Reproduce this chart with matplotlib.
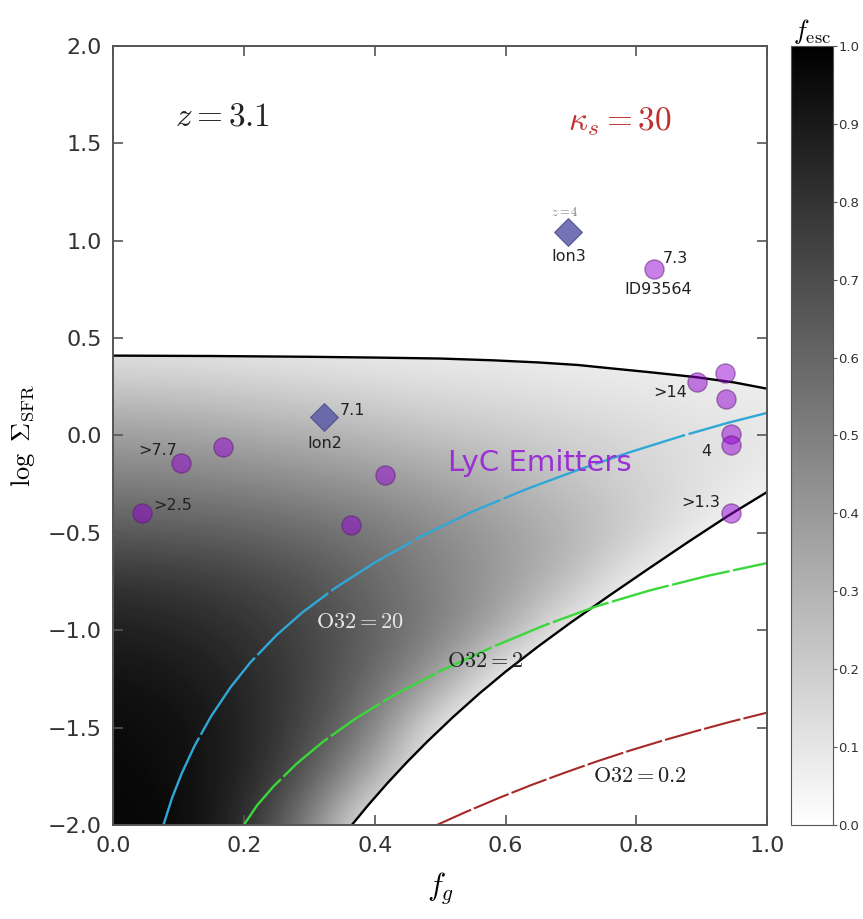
import numpy as np
import matplotlib.pyplot as plt
from matplotlib.patches import Polygon

plt.rcParams['mathtext.fontset'] = 'cm'
plt.rcParams['font.family'] = ['DejaVu Sans']

grid_x = [0.0, 0.1, 0.2, 0.3, 0.4, 0.5, 0.6, 0.7, 0.8, 0.9, 1.0]
grid_y = [-2.0, -1.75, -1.5, -1.25, -1.0, -0.75, -0.5, -0.25, 0.0, 0.25, 0.5]
fesc_grid = [
    [0.98, 0.97, 0.84, 0.48, 0.00, 0.00, 0.00, 0.00, 0.00, 0.00, 0.00],
    [0.97, 0.95, 0.87, 0.66, 0.30, 0.00, 0.00, 0.00, 0.00, 0.00, 0.00],
    [0.96, 0.94, 0.87, 0.72, 0.50, 0.05, 0.00, 0.00, 0.00, 0.00, 0.00],
    [0.93, 0.91, 0.85, 0.74, 0.58, 0.38, 0.00, 0.00, 0.00, 0.00, 0.00],
    [0.88, 0.86, 0.81, 0.73, 0.62, 0.50, 0.33, 0.04, 0.00, 0.00, 0.00],
    [0.80, 0.78, 0.74, 0.68, 0.59, 0.49, 0.39, 0.26, 0.05, 0.00, 0.00],
    [0.65, 0.64, 0.62, 0.58, 0.53, 0.46, 0.38, 0.30, 0.20, 0.07, 0.00],
    [0.51, 0.50, 0.48, 0.45, 0.41, 0.36, 0.30, 0.24, 0.18, 0.13, 0.07],
    [0.38, 0.37, 0.34, 0.31, 0.28, 0.24, 0.21, 0.18, 0.15, 0.12, 0.10],
    [0.22, 0.21, 0.19, 0.17, 0.15, 0.13, 0.12, 0.10, 0.09, 0.08, 0.07],
    [0.08, 0.08, 0.07, 0.07, 0.06, 0.06, 0.06, 0.05, 0.05, 0.05, 0.05],
]

# boundaries of the f_esc > 0 region
upper_x = [0.0, 0.15, 0.3, 0.4, 0.5, 0.58, 0.65, 0.71, 0.76, 0.82, 0.89, 0.95, 1.0]
upper_y = [0.41, 0.408, 0.404, 0.40, 0.395, 0.386, 0.375, 0.362, 0.345, 0.325, 0.30, 0.272, 0.24]
lower_x = [0.365, 0.39, 0.42, 0.45, 0.48, 0.52, 0.56, 0.60, 0.65, 0.70, 0.76, 0.82, 0.88, 0.94, 1.0]
lower_y = [-2.0, -1.898, -1.783, -1.675, -1.573, -1.445, -1.325, -1.213, -1.083, -0.96,
           -0.819, -0.681, -0.545, -0.413, -0.29]

# O32 tracks
o32_20_x = [0.077, 0.09, 0.105, 0.125, 0.15, 0.18, 0.21, 0.25, 0.29, 0.34, 0.40, 0.47,
            0.55, 0.63, 0.71, 0.79, 0.87, 0.94, 1.0]
o32_20_y = [-2.0, -1.863, -1.735, -1.591, -1.441, -1.291, -1.165, -1.025, -0.907, -0.782,
            -0.653, -0.52, -0.39, -0.278, -0.178, -0.086, -0.002, 0.065, 0.116]
o32_2_x = [0.2, 0.22, 0.245, 0.28, 0.32, 0.37, 0.43, 0.5, 0.58, 0.66, 0.74, 0.82, 0.91, 1.0]
o32_2_y = [-2.0, -1.90, -1.803, -1.687, -1.575, -1.455, -1.332, -1.21, -1.086, -0.974,
           -0.876, -0.796, -0.72, -0.655]
o32_02_x = [0.495, 0.54, 0.59, 0.64, 0.69, 0.74, 0.79, 0.84, 0.89, 0.945, 1.0]
o32_02_y = [-2.0, -1.932, -1.861, -1.794, -1.732, -1.673, -1.618, -1.567, -1.519, -1.469, -1.423]

# LyC emitters
circle_x = [0.044, 0.104, 0.168, 0.416, 0.364, 0.827, 0.893, 0.935, 0.937, 0.944, 0.945, 0.945]
circle_y = [-0.40, -0.14, -0.06, -0.205, -0.46, 0.857, 0.277, 0.322, 0.188, 0.005, -0.051, -0.40]
ion_x = [0.322, 0.696]
ion_y = [0.094, 1.047]

point_labels = [">2.5", ">7.7", "7.1", "Ion2", "Ion3", "7.3", "ID93564", ">14", "4", ">1.3"]
label_x = [0.061, 0.038, 0.347, 0.324, 0.696, 0.841, 0.833, 0.878, 0.907, 0.899]
label_y = [-0.36, -0.077, 0.128, -0.04, 0.92, 0.91, 0.75, 0.22, -0.082, -0.344]
label_ha = ["left", "left", "left", "center", "center", "left", "center", "right", "center", "center"]

fig = plt.figure(figsize=(8.63, 9.19), dpi=100)
ax = fig.add_axes([0.131, 0.1023, 0.758, 0.8477])

dx = (grid_x[1] - grid_x[0]) / 2
dy = (grid_y[1] - grid_y[0]) / 2
im = ax.imshow(np.array(fesc_grid), origin='lower', cmap='gray_r', vmin=0, vmax=1,
               interpolation='bicubic', aspect='auto',
               extent=[grid_x[0] - dx, grid_x[-1] + dx, grid_y[0] - dy, grid_y[-1] + dy])
verts = list(zip(upper_x, upper_y)) + list(zip(lower_x[::-1], lower_y[::-1])) + [(0.0, -2.0)]
clip = Polygon(verts, closed=True, transform=ax.transData, facecolor='none', edgecolor='none')
im.set_clip_path(clip)

ax.plot(upper_x, upper_y, color='k', lw=1.7)
ax.plot(lower_x, lower_y, color='k', lw=1.7)
ax.plot(o32_20_x, o32_20_y, color='#2fa8d8', lw=1.7, dashes=(40, 1.5))
ax.plot(o32_2_x, o32_2_y, color='#3ad83a', lw=1.7, dashes=(25, 1.5))
ax.plot(o32_02_x, o32_02_y, color='#a82828', lw=1.5, dashes=(18, 1.5))

ax.scatter(circle_x, circle_y, s=190, color='darkviolet', alpha=0.5,
           edgecolors='#5a1a70', linewidths=1, zorder=5)
ax.scatter(ion_x, ion_y, s=200, marker='D', color='#5b5ba8', alpha=0.85,
           edgecolors='#4a4a8a', linewidths=0.8, zorder=5)

for t, x, y, ha in zip(point_labels, label_x, label_y, label_ha):
    ax.text(x, y, t, ha=ha, va='center', fontsize=11.5, color='#222222', zorder=6)
ax.text(0.691, 1.145, r'$z=4$', ha='center', va='center', fontsize=9, color='#777777')

ax.text(0.653, -0.14, 'LyC Emitters', ha='center', va='center', fontsize=21, color='#9a2fd6')
ax.text(0.167, 1.64, r'$z=3.1$', ha='center', va='center', fontsize=24, color='#222222')
ax.text(0.775, 1.61, r'$\kappa_s=30$', ha='center', va='center', fontsize=24, color='#c0302e')
ax.text(0.378, -0.96, r'$\mathrm{O32=20}$', ha='center', va='center', fontsize=16, color='#e8e8e8')
ax.text(0.569, -1.16, r'$\mathrm{O32=2}$', ha='center', va='center', fontsize=16, color='#222222')
ax.text(0.806, -1.75, r'$\mathrm{O32=0.2}$', ha='center', va='center', fontsize=16, color='#222222')

ax.set_xlim(0, 1)
ax.set_ylim(-2, 2)
ax.set_xticks([0.0, 0.2, 0.4, 0.6, 0.8, 1.0])
ax.set_yticks([-2.0, -1.5, -1.0, -0.5, 0.0, 0.5, 1.0, 1.5, 2.0])
ax.tick_params(direction='in', top=True, right=True, length=7, width=1.2,
               color='#555555', labelsize=16, labelcolor='#333333', pad=8)
for sp in ax.spines.values():
    sp.set_color('#555555')
    sp.set_linewidth(1.4)
ax.set_xlabel(r'$f_g$', fontsize=22, labelpad=10)
ax.set_ylabel(r'$\log\ \Sigma_{\rm SFR}$', fontsize=19, labelpad=8)

cax = fig.add_axes([0.9166, 0.1023, 0.0487, 0.8477])
cb = fig.colorbar(im, cax=cax, ticks=[0.0, 0.1, 0.2, 0.3, 0.4, 0.5, 0.6, 0.7, 0.8, 0.9, 1.0])
cb.outline.set_edgecolor('#555555')
cb.ax.tick_params(labelsize=9.5, length=3, color='#555555', labelcolor='#333333', pad=1)
cb.ax.set_title(r'$f_{\rm esc}$', fontsize=19, pad=4)

fig.savefig('out.png', dpi=100)
